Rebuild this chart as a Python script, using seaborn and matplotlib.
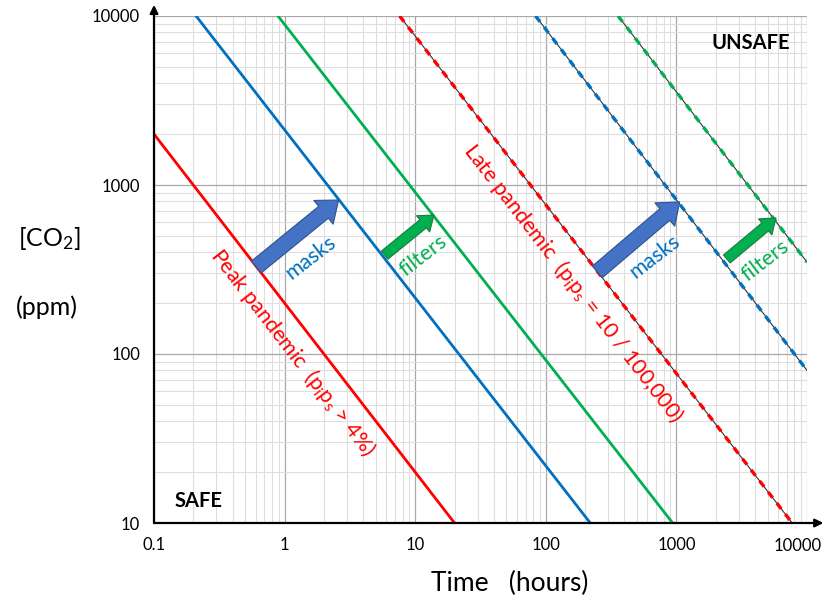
import numpy as np
import pandas as pd
import matplotlib
matplotlib.use("Agg")
from matplotlib import pyplot as plt
from matplotlib.patches import FancyArrowPatch
import seaborn as sns

# line end points (time in hours, CO2 in ppm)
peak_t = [0.1, 20]
peak_c = [2000, 10]
peak_masks_t = [0.21, 219]
peak_masks_c = [10000, 10]
peak_filters_t = [0.89, 936]
peak_filters_c = [10000, 10]
late_t = [7.6, 7700]
late_c = [10000, 10]
late_masks_t = [83.5, 10000]
late_masks_c = [10000, 80]
late_filters_t = [358, 10000]
late_filters_c = [10000, 350]

# arrows (tail -> tip)
masks_arrows = [((0.607, 327), (2.59, 815)), ((248, 306), (1059, 794))]
filter_arrows = [((5.84, 385), (13.9, 664)), ((2432, 365), (5780, 638))]

x_ticks = [0.1, 1, 10, 100, 1000, 10000]
x_tick_labels = ['0.1', '1', '10', '100', '1000', '']
y_ticks = [10, 100, 1000, 10000]
y_tick_labels = ['10', '100', '1000', '10000']

RED = '#FF0000'
BLUE = '#0070C0'
GREEN = '#00B050'

sns.set_style("white")
plt.rcParams['font.family'] = ['Lato', 'DejaVu Sans']
plt.rcParams['mathtext.default'] = 'regular'

fig = plt.figure(figsize=(8.29, 6.07), dpi=100)
ax = fig.add_axes([154 / 829, 1 - 523 / 607, (807 - 154) / 829, (523 - 16) / 607])
ax.set_xscale('log')
ax.set_yscale('log')
ax.set_xlim(0.1, 10000)
ax.set_ylim(10, 10000)

# grid
ax.grid(True, which='major', color='#A8A8A8', lw=0.9)
ax.grid(True, which='minor', color='#DEDEDE', lw=0.8)
ax.set_axisbelow(True)

# solid lines
for t, c, col in [(peak_t, peak_c, RED), (peak_masks_t, peak_masks_c, BLUE),
                  (peak_filters_t, peak_filters_c, GREEN)]:
    sns.lineplot(x=t, y=c, color=col, lw=2.0, ax=ax, zorder=3)

# dashed lines: thin black line with coloured dashes on top
for t, c, col in [(late_t, late_c, RED), (late_masks_t, late_masks_c, BLUE),
                  (late_filters_t, late_filters_c, GREEN)]:
    sns.lineplot(x=t, y=c, color='#333333', lw=0.8, ax=ax, zorder=3)
    sns.lineplot(x=t, y=c, color=col, lw=2.4, ax=ax, zorder=4,
                 linestyle=(0, (2.2, 2.0)))

# arrows
for tail, tip in masks_arrows:
    ax.add_patch(FancyArrowPatch(tail, tip, arrowstyle='simple,head_width=22,head_length=14,tail_width=11',
                                 mutation_scale=1, shrinkA=0, shrinkB=0, fc='#4472C4', ec='#2F528F',
                                 lw=0.8, zorder=5))
for tail, tip in filter_arrows:
    ax.add_patch(FancyArrowPatch(tail, tip, arrowstyle='simple,head_width=15,head_length=10,tail_width=7.5',
                                 mutation_scale=1, shrinkA=0, shrinkB=0, fc='#00B050', ec='#1E7A3C',
                                 lw=0.8, zorder=5))

# text labels (positions in pixel space of the figure)
def fig_text(px, py, s, **kw):
    fig.text(px / 829, 1 - py / 607, s, ha='center', va='center', rotation_mode='anchor', **kw)

fig_text(293, 352, r'Peak pandemic  ($p_ip_s$ > 4%)', color=RED, fontsize=15.5, rotation=-52.4)
fig_text(573, 283, r'Late pandemic  ($p_ip_s$ = 10 / 100,000)', color=RED, fontsize=15.5, rotation=-52.4)
fig_text(311, 258, 'masks', color=BLUE, fontsize=15.5, rotation=37.6)
fig_text(423, 256, 'filters', color=GREEN, fontsize=15.5, rotation=37.6)
fig_text(655, 257, 'masks', color=BLUE, fontsize=15.5, rotation=37.6)
fig_text(765, 261, 'filters', color=GREEN, fontsize=15.5, rotation=37.6)
fig_text(199, 501, 'SAFE', color='black', fontsize=14.5, fontweight='bold')
fig_text(751, 43, 'UNSAFE', color='black', fontsize=14.5, fontweight='bold')

# axis labels
fig_text(49, 238, r'[CO$_2$]', color='black', fontsize=18)
fig_text(47, 307, '(ppm)', color='black', fontsize=18)
fig_text(510, 583, 'Time   (hours)', color='black', fontsize=19)
fig_text(798, 546, '10000', color='black', fontsize=12)

ax.set_xticks(x_ticks)
ax.set_xticklabels(x_tick_labels)
ax.set_yticks(y_ticks)
ax.set_yticklabels(y_tick_labels)
ax.tick_params(axis='both', which='both', length=0, labelsize=12, colors='black')
ax.tick_params(axis='x', pad=10)
ax.tick_params(axis='y', pad=10)

for s in ['top', 'right', 'left', 'bottom']:
    ax.spines[s].set_visible(False)

# axes with arrow heads
ax.annotate('', xy=(1.025, 0), xytext=(0, 0), xycoords='axes fraction',
            arrowprops=dict(arrowstyle='-|>', color='black', lw=1.6, mutation_scale=12,
                            shrinkA=0, shrinkB=0), annotation_clip=False)
ax.annotate('', xy=(0, 1.022), xytext=(0, 0), xycoords='axes fraction',
            arrowprops=dict(arrowstyle='-|>', color='black', lw=1.6, mutation_scale=12,
                            shrinkA=0, shrinkB=0), annotation_clip=False)

fig.savefig('out.png', dpi=100)
